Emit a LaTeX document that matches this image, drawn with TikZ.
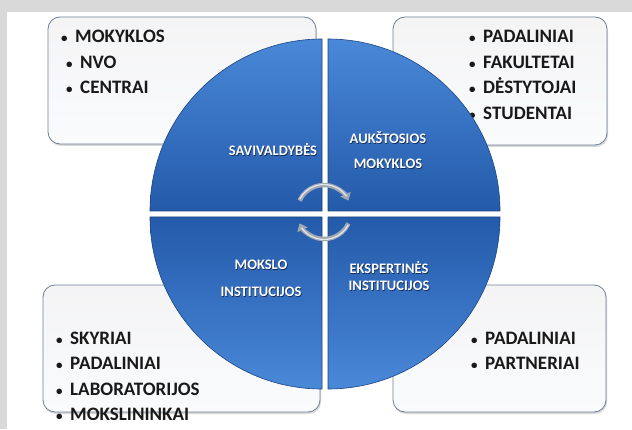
\documentclass[tikz,border=0pt]{standalone}
\usepackage{fontspec}
\setmainfont{Carlito}
\usetikzlibrary{shadows,arrows.meta}
\definecolor{bandgray}{RGB}{217,217,217}
\definecolor{boxedge}{RGB}{112,128,150}
\definecolor{boxtop}{RGB}{244,244,245}
\definecolor{boxbot}{RGB}{250,251,253}
\definecolor{qlight}{RGB}{74,136,216}
\definecolor{qdark}{RGB}{36,90,170}
\definecolor{qedge}{RGB}{26,68,130}
\definecolor{lblshadow}{RGB}{20,45,90}
\definecolor{arrowgray}{RGB}{160,168,178}
\definecolor{arrowlight}{RGB}{228,232,238}
\newcommand\blt{\llap{{\fontsize{13}{13}\selectfont •}\hspace{7.5pt}}}
\newcommand\shd[1]{\leavevmode\rlap{\hspace{0.7pt}\raisebox{-0.9pt}{\textcolor{lblshadow}{#1}}}#1}
\begin{document}
\begin{tikzpicture}[x=1pt,y=1pt,
  listbox/.style={draw=boxedge, line width=0.8pt, rounded corners=12pt,
    top color=boxtop, bottom color=boxbot, inner sep=0pt,
    drop shadow={opacity=0.3, shadow xshift=1pt, shadow yshift=-2pt}},
  item/.style={anchor=base west, inner sep=0pt, font=\fontsize{19}{22}\selectfont\bfseries, text=black!90},
  quarter/.style={draw=qedge, line width=0.6pt},
  qlabel/.style={align=center, inner sep=0pt, text=white, font=\fontsize{14.5}{25}\selectfont\bfseries},
  cyc/.style={line width=4.5pt, draw=arrowgray, -{Triangle[length=7pt,width=11pt]}}
]
\useasboundingbox (0,0) rectangle (632,429);
\fill[bandgray] (0,0) rectangle (632,429);
\fill[white] (7,0) rectangle (632,417);

% boxes
\node[listbox, minimum width=268pt, minimum height=127pt] (boxTL) at (182,348.5) {};
\node[listbox, minimum width=214pt, minimum height=128pt] (boxTR) at (500,348) {};
\node[listbox, minimum width=277pt, minimum height=127pt] (boxBL) at (181.5,80.5) {};
\node[listbox, minimum width=213pt, minimum height=127pt] (boxBR) at (499.5,80.5) {};

% list texts
\node[item] (tl1) at (75,386) {\blt MOKYKLOS};
\node[item] (tl2) at (80,360.5) {\blt NVO};
\node[item] (tl3) at (80,335) {\blt CENTRAI};

\node[item] (tr1) at (483,386) {\blt PADALINIAI};
\node[item] (tr2) at (483,360.5) {\blt FAKULTETAI};
\node[item] (tr3) at (483,335) {\blt DĖSTYTOJAI};
\node[item] (tr4) at (483,309.5) {\blt STUDENTAI};

\node[item] (bl1) at (70,85) {\blt SKYRIAI};
\node[item] (bl2) at (70,59.5) {\blt PADALINIAI};
\node[item] (bl3) at (70,34) {\blt LABORATORIJOS};
\node[item] (bl4) at (70,8.5) {\blt MOKSLININKAI};

\node[item] (br1) at (485,85) {\blt PADALINIAI};
\node[item] (br2) at (485,59.5) {\blt PARTNERIAI};

% quadrants
\path[quarter, top color=qlight, bottom color=qdark]
  (322,218) -- ++(-172,0) arc[start angle=180, end angle=90, radius=172] -- cycle;
\path[quarter, top color=qlight, bottom color=qdark]
  (328,218) -- ++(0,172) arc[start angle=90, end angle=0, radius=172] -- cycle;
\path[quarter, top color=qdark, bottom color=qlight]
  (322,212) -- ++(0,-172) arc[start angle=270, end angle=180, radius=172] -- cycle;
\path[quarter, top color=qdark, bottom color=qlight]
  (328,212) -- ++(172,0) arc[start angle=0, end angle=-90, radius=172] -- cycle;

% labels
\node[qlabel] (lsav) at (273,279) {\shd{SAVIVALDYBĖS}};
\node[qlabel] (laus) at (388,278.5) {\shd{AUKŠTOSIOS}\\\shd{MOKYKLOS}};
\node[qlabel, font=\fontsize{14.5}{27}\selectfont\bfseries] (lmok) at (261,150.5) {\shd{MOKSLO}\\\shd{INSTITUCIJOS}};
\node[qlabel, font=\fontsize{14.5}{17}\selectfont\bfseries] (leks) at (389,152.5) {\shd{EKSPERTINĖS}\\\shd{INSTITUCIJOS}};

% cycle arrows
\coordinate (cc) at (324,217);
\draw[cyc] ([shift={(155:27)}]cc) arc[start angle=155, end angle=25, radius=27];
\draw[cyc] ([shift={(-25:27)}]cc) arc[start angle=-25, end angle=-155, radius=27];
\draw[line width=1.2pt, arrowlight] ([shift={(152:27.5)}]cc) arc[start angle=152, end angle=35, radius=27.5];
\draw[line width=1.2pt, arrowlight] ([shift={(-28:27.5)}]cc) arc[start angle=-28, end angle=-145, radius=27.5];
\end{tikzpicture}
\end{document}
